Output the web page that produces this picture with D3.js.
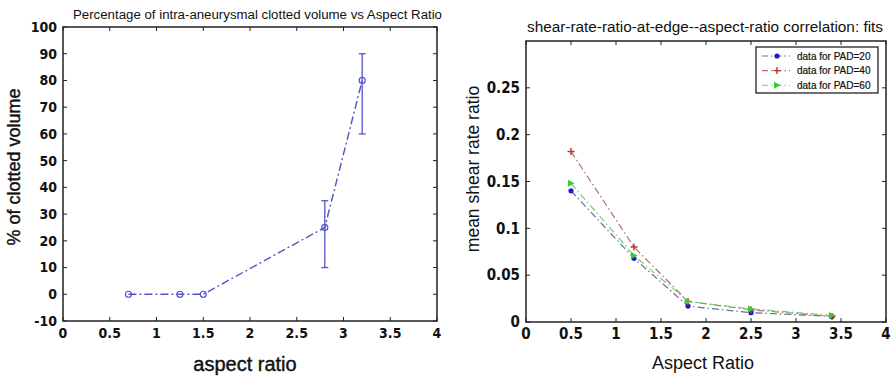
<!DOCTYPE html>
<html>
<head>
<meta charset="utf-8">
<script src="https://cdn.jsdelivr.net/npm/d3@7"></script>
<style>
  body { margin: 0; background: #fff; }
  svg text { font-family: "Liberation Sans", Arial, sans-serif; fill: #111; }
  svg text.tick { font-family: "DejaVu Sans Condensed", "Liberation Sans", sans-serif; }
</style>
</head>
<body>
<svg id="chart" width="893" height="376"></svg>
<script>
// left panel: clotted volume
const clotX = [0.7, 1.25, 1.5, 2.8, 3.2];
const clotY = [0, 0, 0, 25, 80];
const clotLo = [0, 0, 0, 10, 60];
const clotHi = [0, 0, 0, 35, 90];

// right panel: shear rate ratio
const arX = [0.5, 1.2, 1.8, 2.5, 3.4];
const pad20 = [0.140, 0.068, 0.017, 0.010, 0.006];
const pad40 = [0.182, 0.080, 0.022, 0.013, 0.006];
const pad60 = [0.148, 0.071, 0.022, 0.014, 0.007];
const seriesNames = ["data for PAD=20", "data for PAD=40", "data for PAD=60"];

const xTicks = [0, 0.5, 1, 1.5, 2, 2.5, 3, 3.5, 4];
const leftYTicks = [-10, 0, 10, 20, 30, 40, 50, 60, 70, 80, 90, 100];
const rightYTicks = [0, 0.05, 0.1, 0.15, 0.2, 0.25];

const svg = d3.select("#chart");

// draws the box with inner ticks on all four sides, like matlab
function drawFrame(g, x, y, yTicks, fontSize) {
  const [x0, x1] = x.range();
  const [y1, y0] = y.range();
  const tk = 4;

  g.append("rect")
    .attr("x", x0).attr("y", y0)
    .attr("width", x1 - x0).attr("height", y1 - y0)
    .attr("fill", "none").attr("stroke", "#222").attr("stroke-width", 1.5);

  xTicks.forEach((t) => {
    g.append("line").attr("x1", x(t)).attr("x2", x(t)).attr("y1", y1).attr("y2", y1 - tk)
      .attr("stroke", "#222");
    g.append("line").attr("x1", x(t)).attr("x2", x(t)).attr("y1", y0).attr("y2", y0 + tk)
      .attr("stroke", "#222");
    g.append("text").attr("class", "tick").attr("x", x(t)).attr("y", y1 + 17)
      .attr("text-anchor", "middle").attr("font-size", fontSize).attr("font-weight", "bold")
      .text(t);
  });
  yTicks.forEach((t) => {
    g.append("line").attr("x1", x0).attr("x2", x0 + tk).attr("y1", y(t)).attr("y2", y(t))
      .attr("stroke", "#222");
    g.append("line").attr("x1", x1).attr("x2", x1 - tk).attr("y1", y(t)).attr("y2", y(t))
      .attr("stroke", "#222");
    g.append("text").attr("class", "tick").attr("x", x0 - 6).attr("y", y(t)).attr("dy", "0.35em")
      .attr("text-anchor", "end").attr("font-size", fontSize).attr("font-weight", "bold")
      .text(t);
  });
}

// ---- left plot
const xL = d3.scaleLinear().domain([0, 4]).range([63, 437]);
const yL = d3.scaleLinear().domain([-10, 100]).range([321, 27]);
const gL = svg.append("g");
drawFrame(gL, xL, yL, leftYTicks, 14);

gL.append("text").attr("x", 73).attr("y", 19)
  .attr("font-size", 12).attr("textLength", 369).attr("lengthAdjust", "spacingAndGlyphs")
  .text("Percentage of intra-aneurysmal clotted volume vs Aspect Ratio");
gL.append("text").attr("x", 245).attr("y", 371).attr("text-anchor", "middle")
  .attr("font-size", 20).attr("stroke", "#111").attr("stroke-width", 0.4).text("aspect ratio");
gL.append("text").attr("transform", "translate(20,167) rotate(-90)").attr("text-anchor", "middle")
  .attr("font-size", 18).attr("stroke", "#111").attr("stroke-width", 0.4).text("% of clotted volume");

const clotColor = "#5454c8";
const clotPts = clotX.map((d, i) => ({ x: d, y: clotY[i], lo: clotLo[i], hi: clotHi[i] }));
gL.append("path").datum(clotPts)
  .attr("d", d3.line().x((d) => xL(d.x)).y((d) => yL(d.y)))
  .attr("fill", "none").attr("stroke", clotColor).attr("stroke-width", 1.4)
  .attr("stroke-dasharray", "8,3,2,3");
const errs = clotPts.filter((d) => d.hi > d.lo);
gL.selectAll(".eb").data(errs).join("line").attr("class", "eb")
  .attr("x1", (d) => xL(d.x)).attr("x2", (d) => xL(d.x))
  .attr("y1", (d) => yL(d.lo)).attr("y2", (d) => yL(d.hi))
  .attr("stroke", clotColor).attr("stroke-width", 1.3);
["lo", "hi"].forEach((k) => {
  gL.selectAll(".cap" + k).data(errs).join("line").attr("class", "cap" + k)
    .attr("x1", (d) => xL(d.x) - 3.5).attr("x2", (d) => xL(d.x) + 3.5)
    .attr("y1", (d) => yL(d[k])).attr("y2", (d) => yL(d[k]))
    .attr("stroke", clotColor).attr("stroke-width", 1.3);
});
gL.selectAll(".pt").data(clotPts).join("circle").attr("class", "pt")
  .attr("cx", (d) => xL(d.x)).attr("cy", (d) => yL(d.y)).attr("r", 3)
  .attr("fill", "none").attr("stroke", clotColor).attr("stroke-width", 1.2);

// ---- right plot
const xR = d3.scaleLinear().domain([0, 4]).range([526, 886]);
const yR = d3.scaleLinear().domain([0, 0.3]).range([322, 41]);
const gR = svg.append("g");
drawFrame(gR, xR, yR, rightYTicks, 15);

gR.append("text").attr("x", 527).attr("y", 32)
  .attr("font-size", 14).attr("textLength", 356).attr("lengthAdjust", "spacingAndGlyphs")
  .text("shear-rate-ratio-at-edge--aspect-ratio correlation: fits");
gR.append("text").attr("x", 703).attr("y", 369).attr("text-anchor", "middle")
  .attr("font-size", 18).text("Aspect Ratio");
gR.append("text").attr("transform", "translate(479,169) rotate(-90)").attr("text-anchor", "middle")
  .attr("font-size", 17.5).text("mean shear rate ratio");

const series = [
  { name: seriesNames[0], values: pad20, line: "#6a6a9a", mark: "#1a1ad0", shape: "star" },
  { name: seriesNames[1], values: pad40, line: "#b07070", mark: "#c03030", shape: "plus" },
  { name: seriesNames[2], values: pad60, line: "#70d070", mark: "#30d030", shape: "tri" },
];

function marker(g, shape, color, cx, cy) {
  if (shape === "star") {
    g.append("circle").attr("cx", cx).attr("cy", cy).attr("r", 2.6).attr("fill", color);
  } else if (shape === "plus") {
    g.append("path").attr("d", `M${cx - 3.5},${cy}H${cx + 3.5}M${cx},${cy - 3.5}V${cy + 3.5}`)
      .attr("stroke", color).attr("stroke-width", 1.4);
  } else {
    g.append("path").attr("d", `M${cx - 3},${cy - 3.5}L${cx + 3.5},${cy}L${cx - 3},${cy + 3.5}Z`)
      .attr("fill", color);
  }
}

series.forEach((s) => {
  const pts = arX.map((d, i) => [d, s.values[i]]);
  gR.append("path").datum(pts)
    .attr("d", d3.line().x((d) => xR(d[0])).y((d) => yR(d[1])))
    .attr("fill", "none").attr("stroke", s.line).attr("stroke-width", 1.2)
    .attr("stroke-dasharray", "7,3,1.5,3");
  pts.forEach((p) => marker(gR, s.shape, s.mark, xR(p[0]), yR(p[1])));
});

// legend
const lg = gR.append("g");
lg.append("rect").attr("x", 756).attr("y", 47).attr("width", 122).attr("height", 46)
  .attr("fill", "#fff").attr("stroke", "#222").attr("stroke-width", 1.3);
series.forEach((s, i) => {
  const ly = 56 + i * 14.6;
  lg.append("line").attr("x1", 762).attr("x2", 790).attr("y1", ly).attr("y2", ly)
    .attr("stroke", s.line).attr("stroke-width", 1.1).attr("stroke-dasharray", "6,3,1.5,3");
  marker(lg, s.shape, s.mark, 777, ly);
  lg.append("text").attr("x", 797).attr("y", ly).attr("dy", "0.35em")
    .attr("font-size", 10).attr("stroke", "#111").attr("stroke-width", 0.2).text(s.name);
});
</script>
</body>
</html>
